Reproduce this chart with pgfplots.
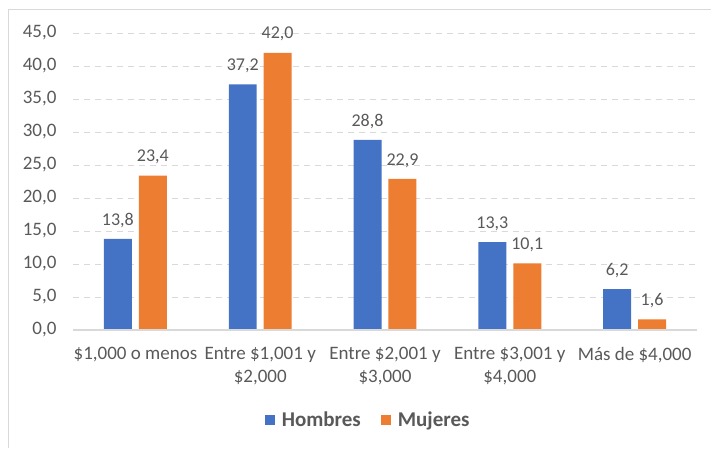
\documentclass[border=0pt]{standalone}
\usepackage{pgfplots}
\pgfplotsset{compat=1.18}
\usepackage{fontspec}
\setmainfont{Carlito}
\definecolor{cblue}{HTML}{4472C4}
\definecolor{corange}{HTML}{ED7D31}
\definecolor{ctext}{HTML}{595959}
\definecolor{cgrid}{HTML}{D9D9D9}
\begin{document}
\begin{tikzpicture}
\path[use as bounding box] (0pt,0pt) rectangle (711pt,448pt);
\draw[cgrid, line width=1pt] (8pt,0pt) -- (8pt,438pt) -- (711pt,438pt);
\begin{axis}[
  at={(73pt,118pt)}, anchor=south west,
  scale only axis, width=624pt, height=297pt,
  xmin=-0.5, xmax=4.5, ymin=0, ymax=45,
  ybar, bar width=0.224,
  axis line style={draw=none},
  axis x line*=bottom,
  xtick={0,1,2,3,4},
  xticklabels={{\$1,000 o menos},{Entre \$1,001 y\\\$2,000},{Entre \$2,001 y\\\$3,000},{Entre \$3,001 y\\\$4,000},{Más de \$4,000}},
  xticklabel style={align=center, font=\fontsize{19}{23}\selectfont, text=ctext, yshift=-14pt},
  ytick={0,5,...,45},
  yticklabel style={font=\fontsize{19}{22}\selectfont, text=ctext, xshift=-13pt,
    /pgf/number format/.cd, fixed, fixed zerofill, precision=1, use comma, assume math mode=true},
  major tick length=0pt,
  ymajorgrids, grid style={cgrid, dashed, dash pattern=on 6pt off 5pt, line width=1pt},
  nodes near coords,
  nodes near coords style={font=\fontsize{18}{20}\selectfont, text=ctext, yshift=8pt,
    /pgf/number format/.cd, fixed, fixed zerofill, precision=1, use comma, assume math mode=true},
  legend style={at={(0.473,-0.303)}, anchor=center, draw=none, legend columns=2,
    font=\fontsize{21}{24}\selectfont\bfseries, text=ctext,
    /tikz/every even column/.append style={column sep=18pt}},
  legend cell align=left,
]
\addplot[fill=cblue, draw=none, bar shift=-0.14,
  legend image code/.code={\fill[cblue] (0pt,-5pt) rectangle (10pt,5pt); \path (15pt,0pt);}]
  coordinates {(0,13.8) (1,37.2) (2,28.8) (3,13.3) (4,6.2)};
\addplot[fill=corange, draw=none, bar shift=0.14,
  legend image code/.code={\fill[corange] (0pt,-5pt) rectangle (10pt,5pt); \path (15pt,0pt);}]
  coordinates {(0,23.4) (1,42.0) (2,22.9) (3,10.1) (4,1.6)};
\draw[cgrid, line width=1.2pt] (rel axis cs:0,0) -- (rel axis cs:1,0);
\legend{Hombres, Mujeres}
\end{axis}
\end{tikzpicture}
\end{document}
